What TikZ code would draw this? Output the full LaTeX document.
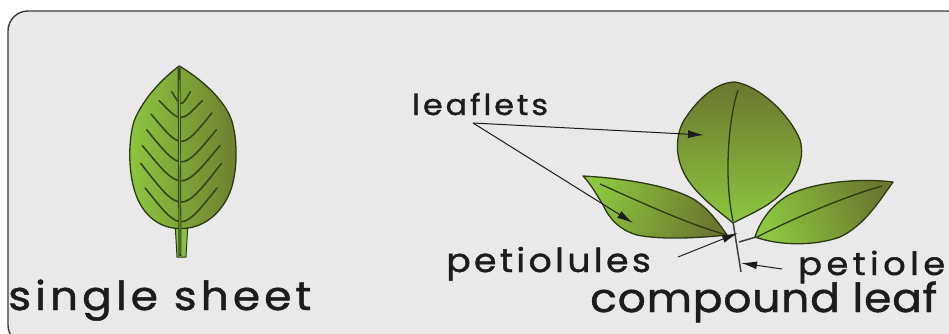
\documentclass[tikz,border=0pt]{standalone}
\usepackage{fontspec}
\setmainfont{Poppins}[FakeBold=1.2, FakeStretch=1.1]
\usetikzlibrary{arrows.meta}
\definecolor{panel}{HTML}{E9E9E9}
\definecolor{panelrim}{HTML}{3C3C3C}
\definecolor{leafrim}{HTML}{2C3A12}
\definecolor{vein}{HTML}{33481A}
\definecolor{brightleaf}{HTML}{8EC63F}
\definecolor{darkleaf}{HTML}{6B7630}
\definecolor{stalk}{HTML}{8CBF45}
\definecolor{ink}{HTML}{1C1C1C}
\tikzset{
  leafrim/.style={draw=leafrim, line width=1.3pt, line join=round},
  veinline/.style={draw=vein, line width=1.6pt, line cap=round},
  stemline/.style={draw=ink!85, line width=1.5pt},
  pointer/.style={draw=ink, line width=1pt, -{Latex[length=16pt,width=8pt]}},
  label/.style={inner sep=0pt, text=ink, anchor=base west},
}
\begin{document}
\begin{tikzpicture}[x=1pt,y=-1pt]
\useasboundingbox (0,0) rectangle (949,334);
\clip (0,0) rectangle (949,334);
\fill[white] (0,0) rectangle (949,334);
% panel
\draw[panelrim, line width=1.4pt, fill=panel, rounded corners=20pt] (8,11) rectangle (968,345);

% ---- simple leaf ----
\draw[leafrim, line width=1pt, fill=stalk] (175,222) -- (177,257) -- (186,257) -- (188,222);
\begin{scope}[shift={(180,66)}, xscale=0.74, yscale=1.12, shift={(-180,-66)}]
\draw[leafrim, left color=brightleaf, middle color=brightleaf!95!black, right color=darkleaf!90!brightleaf]
  (179,66) .. controls (205,76) and (240,95) .. (250,115)
  .. controls (258,132) and (258,160) .. (248,178)
  .. controls (236,198) and (212,210) .. (186,211) -- (176,211)
  .. controls (150,210) and (128,198) .. (119,178)
  .. controls (110,160) and (110,132) .. (118,115)
  .. controls (130,95) and (158,76) .. (179,66) -- cycle;
% lateral veins
\foreach \lx/\ly/\my/\rx/\ry in {169/89/96/194/89, 152/97/107/210/97, 141/109/125/223/108,
  135/123/142/229/123, 129/137/158/234/137, 127/153/176/236/153, 133/175/195/230/175}
  \draw[veinline] (\lx,\ly) .. controls ({(\lx+\rx)/2}, {2*\my-(\ly+\ry)/2}) .. (\rx,\ry);
\end{scope}
% midrib
\draw[draw=vein, line width=3pt] (179,68) -- (180,256);
\draw[draw=brightleaf!80!vein, line width=0.8pt] (179.3,80) -- (180,254);

% ---- compound leaf ----
\draw[stemline] (733,222) -- (741,272);
\draw[stemline] (739,242) -- (756,237);
% top leaflet
\draw[leafrim, top color=darkleaf, bottom color=brightleaf]
  (735,82) .. controls (760,86) and (790,115) .. (800,140)
  .. controls (806,160) and (795,185) .. (770,203)
  .. controls (755,213) and (742,218) .. (733,223)
  .. controls (720,212) and (700,198) .. (688,180)
  .. controls (676,162) and (674,140) .. (683,122)
  .. controls (695,102) and (715,82) .. (735,82) -- cycle;
\draw[draw=leafrim, line width=1.3pt] (738,90) .. controls (728,120) and (724,180) .. (733,221);
% left leaflet
\draw[leafrim, left color=brightleaf, right color=darkleaf, shading angle=70]
  (583,176) .. controls (620,178) and (670,185) .. (695,200)
  .. controls (710,210) and (720,225) .. (727,235)
  .. controls (700,238) and (660,240) .. (637,235)
  .. controls (620,230) and (610,220) .. (603,205)
  .. controls (597,195) and (590,183) .. (583,176) -- cycle;
\draw[draw=leafrim, line width=1.3pt] (600,184) .. controls (640,202) and (690,225) .. (727,235);
% right leaflet
\draw[leafrim, left color=brightleaf, right color=darkleaf, shading angle=110]
  (755,237) .. controls (760,220) and (775,200) .. (795,192)
  .. controls (820,182) and (860,178) .. (893,182)
  .. controls (880,200) and (865,225) .. (840,237)
  .. controls (815,246) and (780,246) .. (755,237) -- cycle;
\draw[draw=leafrim, line width=1.3pt] (757,237) .. controls (800,215) and (850,195) .. (882,186);

% ---- labels ----
\node[label, font={\fontsize{40}{48}\selectfont\addfontfeatures{LetterSpace=10}}] (single) at (8,310) {single sheet};
\node[label, font={\fontsize{40}{48}\selectfont\addfontfeatures{LetterSpace=2}}] (compound) at (590,312) {compound leaf};
\node[label, font={\fontsize{29}{34}\selectfont\addfontfeatures{LetterSpace=10}}] (leaflets) at (412,115) {leaflets};
\node[label, font={\fontsize{33}{38}\selectfont\addfontfeatures{LetterSpace=10}}] (petiolules) at (446,272) {petiolules};
\node[label, font={\fontsize{32}{38}\selectfont\addfontfeatures{LetterSpace=14}}] (petiole) at (798,275) {petiole};

% ---- pointers ----
\coordinate (fork) at (473,123);
\coordinate (topleaflet) at (704,135);
\coordinate (leftleaflet) at (633,223);
\coordinate (ppstart) at (678,257);
\coordinate (ppend) at (738,233);
\coordinate (pstart) at (782,269);
\coordinate (pend) at (741,263);
\draw[pointer] (fork) -- (topleaflet);
\draw[pointer] (fork) -- (leftleaflet);
\draw[pointer] (ppstart) -- (ppend);
\draw[pointer] (pstart) -- (pend);
\end{tikzpicture}
\end{document}
